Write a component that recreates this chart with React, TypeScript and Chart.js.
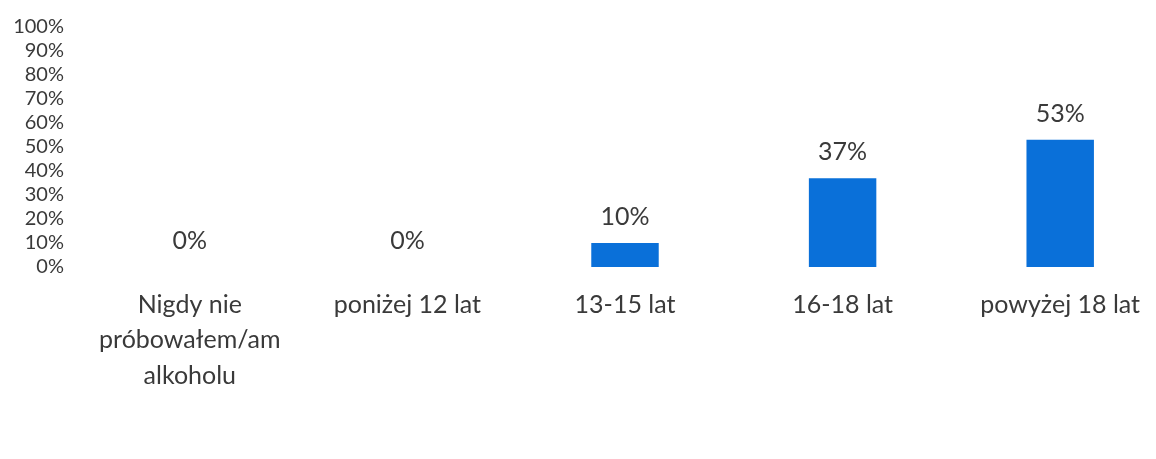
import React, { useEffect, useRef } from "react";
import { Chart, registerables } from "chart.js";

Chart.register(...registerables);

const categories: (string | string[])[] = [
  ["Nigdy nie", "próbowałem/am", "alkoholu"],
  "poniżej 12 lat",
  "13-15 lat",
  "16-18 lat",
  "powyżej 18 lat",
];
const values: number[] = [0, 0, 10, 37, 53];
const yTicks: number[] = [0, 10, 20, 30, 40, 50, 60, 70, 80, 90, 100];

const FONT = "Lato, 'Open Sans', sans-serif";
const TEXT = "#3a3a3a";
const BAR = "#0a70d9";

const valueLabels = {
  id: "valueLabels",
  afterDatasetsDraw(chart: any) {
    const { ctx } = chart;
    const meta = chart.getDatasetMeta(0);
    ctx.save();
    ctx.font = `25px ${FONT}`;
    ctx.fillStyle = TEXT;
    ctx.textAlign = "center";
    ctx.textBaseline = "middle";
    meta.data.forEach((el: any, i: number) => {
      ctx.fillText(values[i] + "%", el.x, el.y - 26);
    });
    ctx.restore();
  },
};

export default function App() {
  const ref = useRef<HTMLCanvasElement>(null);
  useEffect(() => {
    if (!ref.current) return;
    const chart = new Chart(ref.current, {
      type: "bar",
      data: {
        labels: categories,
        datasets: [
          {
            data: values,
            backgroundColor: BAR,
            barPercentage: 0.62,
            categoryPercentage: 0.5,
          },
        ],
      },
      options: {
        responsive: false,
        animation: false,
        maintainAspectRatio: false,
        layout: { padding: { top: 27, right: 11, left: 0, bottom: 0 } },
        plugins: { legend: { display: false }, tooltip: { enabled: false } },
        scales: {
          x: {
            grid: { display: false, drawTicks: false },
            border: { display: false },
            ticks: {
              color: TEXT,
              font: { family: FONT, size: 25, lineHeight: 1.42 },
              padding: 20,
              maxRotation: 0,
              autoSkip: false,
            },
            afterFit: (s: any) => {
              s.height = 192;
            },
          },
          y: {
            min: 0,
            max: 100,
            afterBuildTicks: (s: any) => {
              s.ticks = yTicks.map((v) => ({ value: v }));
            },
            grid: { display: false, drawTicks: false },
            border: { display: false },
            ticks: {
              color: TEXT,
              font: { family: FONT, size: 20, lineHeight: 1 },
              padding: 17,
              autoSkip: false,
              callback: (v: any) => v + "%",
            },
            afterFit: (s: any) => {
              s.width = 81;
            },
          },
        },
      },
      plugins: [valueLabels],
    });
    return () => chart.destroy();
  }, []);
  return (
    <div style={{ width: 1180, height: 459, background: "#fff" }}>
      <style>{"body{margin:0;overflow:hidden;background:#fff}"}</style>
      <canvas ref={ref} width={1180} height={459} style={{ display: "block" }} />
    </div>
  );
}
